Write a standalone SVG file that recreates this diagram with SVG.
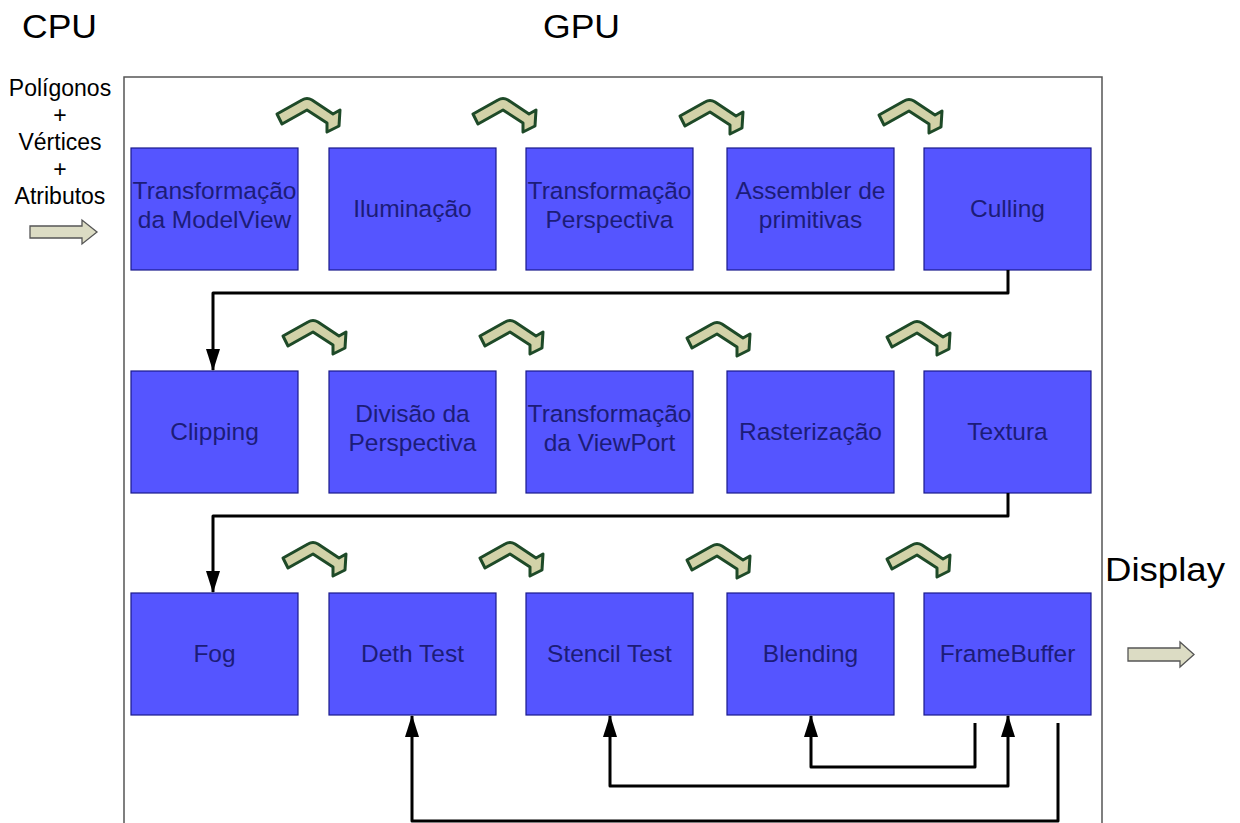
<svg xmlns="http://www.w3.org/2000/svg" xmlns:xlink="http://www.w3.org/1999/xlink" width="1240" height="823" viewBox="0 0 1240 823">
<style>
.box{fill:#5555ff;stroke:#1a1a8c;stroke-width:1.2}
.lbl{font-family:"Liberation Sans",Arial,sans-serif;font-size:24.5px;fill:#1c1c78;text-anchor:middle}
.hdr{font-family:"Liberation Sans",Arial,sans-serif;font-size:33px;fill:#000}
.side{font-family:"Liberation Sans",Arial,sans-serif;font-size:23px;fill:#000;text-anchor:middle}
.con{fill:none;stroke:#000;stroke-width:3;stroke-linejoin:round}
.chev{fill:#d2d2a8;stroke:#1e4a28;stroke-width:3;stroke-linejoin:round}
.blk{fill:#dcdcc4;stroke:#555;stroke-width:1.3}
</style>
<defs>
<marker id="ah" markerUnits="userSpaceOnUse" markerWidth="22" markerHeight="14" refX="21" refY="7" orient="auto-start-reverse">
<path d="M0,0 L22,7 L0,14 Z" fill="#000"/>
</marker>
<path id="chevp" class="chev" d="M0,18 L25,4 Q30,1 35,4 L56,18 L63,14 L62,30 L50,36 L50,27 L30,14 L5,28 Z"/>
</defs>
<rect x="124" y="77" width="978" height="760" fill="none" stroke="#555" stroke-width="1.5"/>
<text class="hdr" x="22" y="38" textLength="75" lengthAdjust="spacingAndGlyphs">CPU</text>
<text class="hdr" x="543" y="38" textLength="77" lengthAdjust="spacingAndGlyphs">GPU</text>
<text class="hdr" x="1105" y="581" textLength="120" lengthAdjust="spacingAndGlyphs">Display</text>
<g id="input">
<text class="side" x="60" y="96">Polígonos</text>
<text class="side" x="60" y="123">+</text>
<text class="side" x="60" y="150">Vértices</text>
<text class="side" x="60" y="177">+</text>
<text class="side" x="60" y="204">Atributos</text>
<path class="blk" d="M30,226 H82 V220 L97,232 L82,244 V238 H30 Z"/>
</g>
<g id="output">
<path class="blk" d="M1128,648 H1180 V642 L1194,654.5 L1180,667 V661 H1128 Z"/>
</g>
<g id="chevrons">
<use xlink:href="#chevp" x="277" y="96"/>
<use xlink:href="#chevp" x="473" y="96"/>
<use xlink:href="#chevp" x="680" y="98"/>
<use xlink:href="#chevp" x="879" y="97"/>
<use xlink:href="#chevp" x="283" y="318"/>
<use xlink:href="#chevp" x="480" y="318"/>
<use xlink:href="#chevp" x="687" y="320"/>
<use xlink:href="#chevp" x="887" y="319"/>
<use xlink:href="#chevp" x="283" y="540"/>
<use xlink:href="#chevp" x="480" y="540"/>
<use xlink:href="#chevp" x="687" y="542"/>
<use xlink:href="#chevp" x="887" y="541"/>
</g>
<g id="n1"><rect class="box" x="131" y="148" width="167" height="122"/><text class="lbl" x="214.5" y="199">Transformação</text><text class="lbl" x="214.5" y="228">da ModelView</text></g>
<g id="n2"><rect class="box" x="329" y="148" width="167" height="122"/><text class="lbl" x="412.5" y="217">Iluminação</text></g>
<g id="n3"><rect class="box" x="526" y="148" width="167" height="122"/><text class="lbl" x="609.5" y="199">Transformação</text><text class="lbl" x="609.5" y="228">Perspectiva</text></g>
<g id="n4"><rect class="box" x="727" y="148" width="167" height="122"/><text class="lbl" x="810.5" y="199">Assembler de</text><text class="lbl" x="810.5" y="228">primitivas</text></g>
<g id="n5"><rect class="box" x="924" y="148" width="167" height="122"/><text class="lbl" x="1007.5" y="217">Culling</text></g>
<g id="n6"><rect class="box" x="131" y="371" width="167" height="122"/><text class="lbl" x="214.5" y="440">Clipping</text></g>
<g id="n7"><rect class="box" x="329" y="371" width="167" height="122"/><text class="lbl" x="412.5" y="422">Divisão da</text><text class="lbl" x="412.5" y="451">Perspectiva</text></g>
<g id="n8"><rect class="box" x="526" y="371" width="167" height="122"/><text class="lbl" x="609.5" y="422">Transformação</text><text class="lbl" x="609.5" y="451">da ViewPort</text></g>
<g id="n9"><rect class="box" x="727" y="371" width="167" height="122"/><text class="lbl" x="810.5" y="440">Rasterização</text></g>
<g id="n10"><rect class="box" x="924" y="371" width="167" height="122"/><text class="lbl" x="1007.5" y="440">Textura</text></g>
<g id="n11"><rect class="box" x="131" y="593" width="167" height="122"/><text class="lbl" x="214.5" y="662">Fog</text></g>
<g id="n12"><rect class="box" x="329" y="593" width="167" height="122"/><text class="lbl" x="412.5" y="662">Deth Test</text></g>
<g id="n13"><rect class="box" x="526" y="593" width="167" height="122"/><text class="lbl" x="609.5" y="662">Stencil Test</text></g>
<g id="n14"><rect class="box" x="727" y="593" width="167" height="122"/><text class="lbl" x="810.5" y="662">Blending</text></g>
<g id="n15"><rect class="box" x="924" y="593" width="167" height="122"/><text class="lbl" x="1007.5" y="662">FrameBuffer</text></g>
<g id="connectors">
<path class="con" d="M1008,270 V293 H213 V370" marker-end="url(#ah)"/>
<path class="con" d="M1008,493 V516 H213 V592" marker-end="url(#ah)"/>
<path class="con" d="M975,723 V767 H811 V716" marker-end="url(#ah)"/>
<path class="con" d="M610,716 V786 H1008 V716" marker-start="url(#ah)" marker-end="url(#ah)"/>
<path class="con" d="M1058,723 V821 H412 V716" marker-end="url(#ah)"/>
</g>
</svg>
